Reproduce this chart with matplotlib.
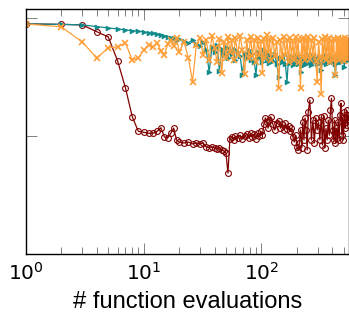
import matplotlib
matplotlib.use("Agg")
import matplotlib.pyplot as plt
from matplotlib.ticker import LogLocator, NullFormatter, LogFormatterMathtext, NullLocator

plt.rcParams["mathtext.fontset"] = "cm"

# evaluation counts at which values were recorded
evals = [1, 2, 3, 4, 5, 6, 7, 8, 9, 10, 11, 12, 13, 14, 15, 16, 17, 18, 19, 20,
         22, 24, 26, 28, 30, 32, 34, 36, 38, 40, 42, 44, 46, 48, 50, 52, 54, 56, 58, 60,
         63, 66, 69, 72, 75, 78, 81, 84, 87, 90, 93, 96, 99, 102, 105, 108, 111, 114, 117, 120,
         125, 130, 135, 140, 145, 150, 155, 160, 165, 170, 175, 180, 185, 190, 195, 200,
         205, 210, 215, 220, 225, 230, 235, 240, 245, 250,
         258, 266, 274, 282, 290, 298, 306, 314, 322, 330, 338, 346, 354, 362, 370, 378,
         386, 394, 402, 410, 418, 426, 434, 442, 450, 458, 466, 474, 482, 490, 498, 506,
         514, 522, 530, 538, 546, 554]

red_vals = [0.898, 0.89, 0.881, 0.77, 0.696, 0.436, 0.257, 0.146, 0.11, 0.108,
            0.106, 0.106, 0.11, 0.118, 0.0985, 0.0966, 0.106, 0.117, 0.0929, 0.0893,
            0.0876, 0.0893, 0.086, 0.0876, 0.086, 0.0876, 0.081, 0.080, 0.081, 0.0794,
            0.078, 0.080, 0.0764, 0.075, 0.072, 0.0487, 0.0947, 0.0985, 0.0929, 0.100,
            0.0966, 0.102, 0.0947, 0.100, 0.104, 0.0966, 0.106, 0.0985, 0.104, 0.0947,
            0.106, 0.100, 0.11, 0.102, 0.127, 0.143, 0.132, 0.117, 0.137, 0.146,
            0.127, 0.113, 0.129, 0.135, 0.117, 0.127, 0.113, 0.129, 0.115, 0.122,
            0.11, 0.117, 0.0985, 0.0893, 0.102, 0.081, 0.0764, 0.0876, 0.113, 0.0794,
            0.132, 0.0929, 0.143, 0.113, 0.0764, 0.161,
            0.203, 0.0929, 0.137, 0.0876, 0.143, 0.113, 0.132, 0.0929, 0.146, 0.0842,
            0.149, 0.0794, 0.117, 0.0929, 0.137, 0.102, 0.167, 0.21, 0.113, 0.0929,
            0.137, 0.0876, 0.117, 0.0966, 0.132, 0.0929, 0.152, 0.191, 0.102, 0.143,
            0.0929, 0.161, 0.117, 0.132, 0.167, 0.124, 0.152, 0.137]

teal_vals = [0.898, 0.89, 0.881, 0.852, 0.83, 0.814, 0.798, 0.788, 0.778, 0.768,
             0.753, 0.745, 0.731, 0.724, 0.71, 0.696, 0.683, 0.676, 0.657, 0.669,
             0.644, 0.619, 0.657, 0.607, 0.584, 0.631, 0.540, 0.351, 0.573, 0.52,
             0.595, 0.358, 0.551, 0.49, 0.573, 0.462, 0.54, 0.50, 0.551, 0.444,
             0.52, 0.481, 0.331, 0.51, 0.462, 0.54, 0.444, 0.50, 0.427, 0.331,
             0.52, 0.462, 0.49, 0.427, 0.54, 0.471, 0.444, 0.51, 0.418, 0.481,
             0.435, 0.50, 0.41, 0.32, 0.462, 0.427, 0.49, 0.41, 0.289, 0.462,
             0.418, 0.481, 0.403, 0.453, 0.427, 0.49, 0.41, 0.462, 0.351, 0.444,
             0.481, 0.403, 0.471, 0.427, 0.50, 0.418,
             0.462, 0.403, 0.49, 0.427, 0.462, 0.41, 0.481, 0.418, 0.365, 0.471,
             0.427, 0.49, 0.41, 0.462, 0.418, 0.481, 0.435, 0.49, 0.427, 0.471,
             0.41, 0.331, 0.462, 0.418, 0.49, 0.444, 0.50, 0.427, 0.471, 0.444,
             0.51, 0.388, 0.481, 0.435, 0.50, 0.444, 0.49, 0.453]

orange_vals = [0.898, 0.847, 0.631, 0.462, 0.562, 0.573, 0.619, 0.444, 0.462, 0.54,
               0.595, 0.573, 0.619, 0.53, 0.49, 0.607, 0.657, 0.584, 0.683, 0.52,
               0.631, 0.462, 0.289, 0.595, 0.683, 0.49, 0.657, 0.444, 0.710, 0.562,
               0.427, 0.669, 0.344, 0.631, 0.462, 0.696, 0.52, 0.657, 0.444, 0.683,
               0.49, 0.71, 0.54, 0.337, 0.657, 0.462, 0.696, 0.481, 0.657, 0.427,
               0.683, 0.49, 0.644, 0.344, 0.669, 0.462, 0.724, 0.52, 0.657, 0.444,
               0.683, 0.481, 0.631, 0.257, 0.657, 0.462, 0.696, 0.49, 0.657, 0.427,
               0.683, 0.471, 0.644, 0.444, 0.696, 0.49, 0.657, 0.427, 0.257, 0.669,
               0.471, 0.683, 0.444, 0.644, 0.481, 0.696,
               0.453, 0.657, 0.49, 0.683, 0.435, 0.289, 0.631, 0.471, 0.228, 0.669,
               0.462, 0.696, 0.444, 0.657, 0.481, 0.683, 0.427, 0.644, 0.471, 0.669,
               0.453, 0.331, 0.657, 0.49, 0.683, 0.444, 0.644, 0.481, 0.669, 0.462,
               0.657, 0.435, 0.683, 0.471, 0.644, 0.453, 0.669, 0.49]

red = "#800000"
teal = "#108a8a"
orange = "#ff9f38"

fig = plt.figure(figsize=(3.49, 3.24), dpi=100)
ax = fig.add_axes([0.0745, 0.216, 0.9255, 0.756])

ax.plot(evals, red_vals, color=red, lw=0.9, marker="o", ms=4.2, mfc="none",
        mec=red, mew=0.8)
ax.plot(evals, teal_vals, color=teal, lw=0.9, marker=">", ms=3.5, mfc=teal,
        mec=teal, mew=0.5)
ax.plot(evals, orange_vals, color=orange, lw=0.9, marker="x", ms=5, mew=1.2,
        mec=orange)

ax.set_xscale("log")
ax.set_yscale("log")
ax.set_xlim(1, 555)
ax.set_ylim(0.01, 1.2)

ax.xaxis.set_major_locator(LogLocator(base=10, numticks=10))
ax.xaxis.set_minor_locator(LogLocator(base=10, subs=range(2, 10), numticks=20))
ax.xaxis.set_major_formatter(LogFormatterMathtext())
ax.xaxis.set_minor_formatter(NullFormatter())
ax.yaxis.set_major_locator(LogLocator(base=10, numticks=10))
ax.yaxis.set_minor_locator(NullLocator())
ax.yaxis.set_major_formatter(NullFormatter())

ax.tick_params(which="both", direction="in", top=True, right=True,
               color="#808080", width=0.7)
ax.tick_params(which="major", length=8, labelsize=14.5, pad=6)
ax.tick_params(which="minor", length=5)
for s in ax.spines.values():
    s.set_linewidth(1.0)

ax.set_xlabel("# function evaluations", fontsize=17, family="Liberation Sans",
              labelpad=5)

fig.savefig("out.png", dpi=100)
